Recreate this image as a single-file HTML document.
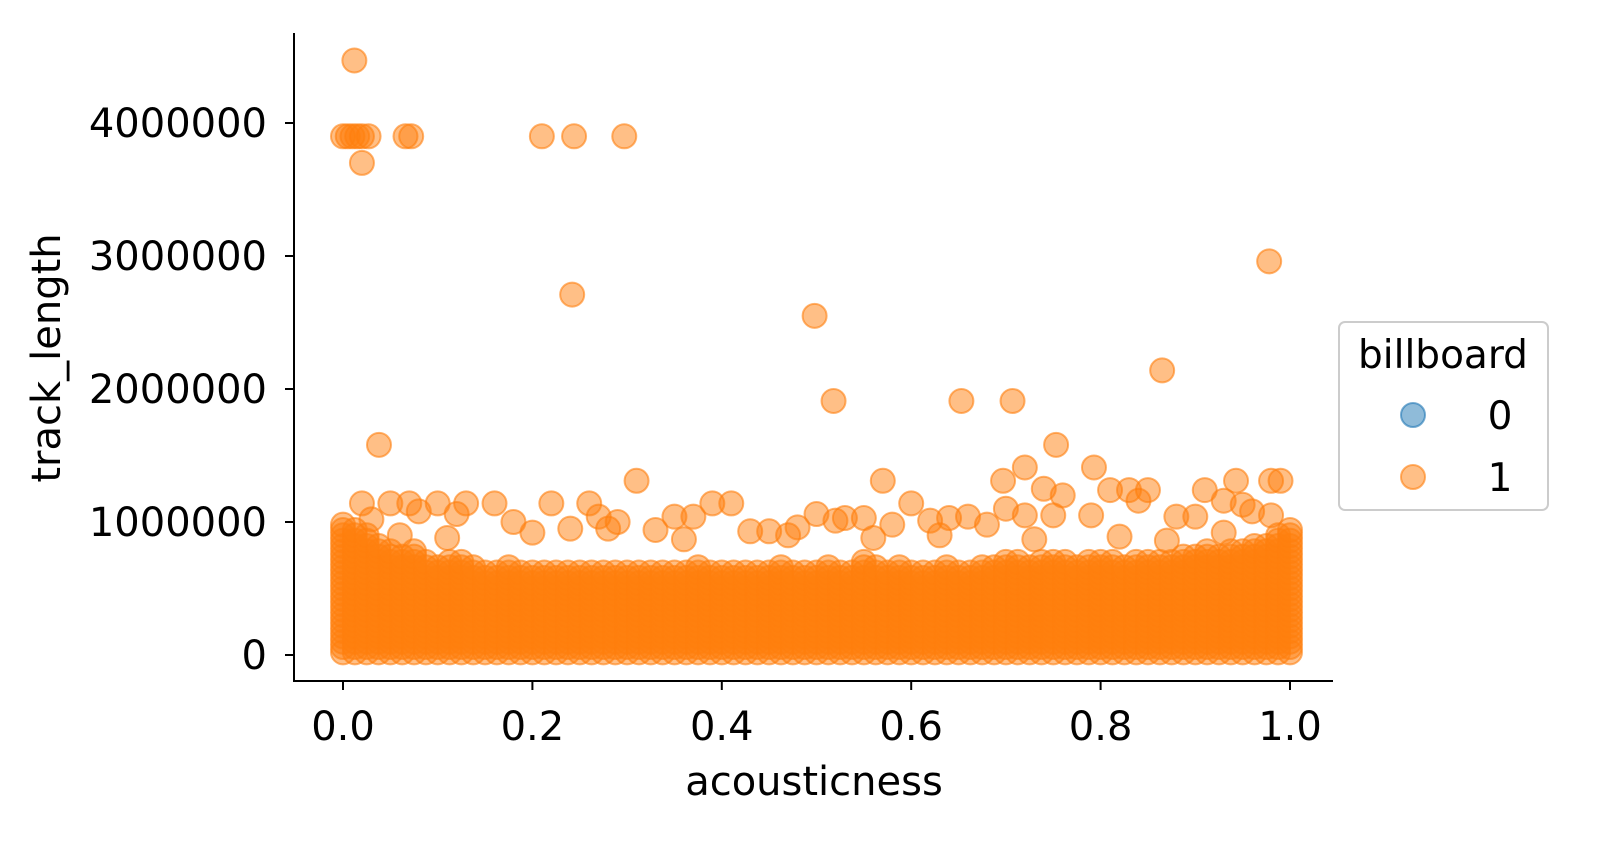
<!DOCTYPE html>
<html><head><meta charset="utf-8"><style>
body{margin:0;background:#fff;}
svg{display:block;font-family:"DejaVu Sans","Liberation Sans",sans-serif;}
</style></head><body>
<svg id="chart" width="1609" height="855">
<g id="marks"></g>
<g id="axes"></g>
<g>
<rect x="1339" y="322" width="209" height="188" rx="6" fill="#fff" fill-opacity="0.8" stroke="#ccc" stroke-width="2"/>
<text x="1443" y="368" font-size="39" text-anchor="middle">billboard</text>
<circle cx="1413" cy="415" r="12" fill="#1f77b4" fill-opacity="0.5" stroke="#1f77b4" stroke-opacity="0.6" stroke-width="2"/>
<text x="1500" y="429" font-size="39" text-anchor="middle">0</text>
<circle cx="1413" cy="477" r="12" fill="#ff7f0e" fill-opacity="0.5" stroke="#ff7f0e" stroke-opacity="0.6" stroke-width="2"/>
<text x="1500" y="491" font-size="39" text-anchor="middle">1</text>
</g>
</svg>
<script>
const xTicks=[0,0.2,0.4,0.6,0.8,1.0];
const xTickLabels=["0.0","0.2","0.4","0.6","0.8","1.0"];
const yTicks=[0,1000000,2000000,3000000,4000000];
const yTickLabels=["0","1000000","2000000","3000000","4000000"];
// dense band: upper edge per column (x = 0..1 step 0.0125)
const bandTop=[1000000,950000,900000,850000,800000,750000,780000,700000,680000,700000,720000,680000,650000,650000,680000,640000,620000,650000,630000,640000,620000,630000,650000,640000,620000,640000,650000,630000,620000,640000,660000,620000,640000,650000,630000,620000,640000,680000,650000,640000,650000,660000,640000,650000,700000,680000,650000,660000,640000,650000,640000,680000,650000,640000,660000,680000,700000,720000,680000,700000,720000,700000,680000,700000,720000,700000,680000,700000,720000,700000,720000,740000,760000,780000,760000,800000,780000,820000,850000,900000,950000];
const bandBottom=[20000];
const outX=[0.012,0.0,0.005,0.01,0.015,0.02,0.027,0.072,0.066,0.02,0.21,0.244,0.297,0.242,0.498,0.518,0.653,0.707,0.865,0.978,0.038,0.753,0.31,0.57,0.697,0.72,0.793,0.99,0.98,0.943,0.83,0.81,0.85,0.91,0.93,0.76,0.74,0.02,0.05,0.07,0.1,0.13,0.16,0.22,0.26,0.27,0.35,0.37,0.39,0.41,0.45,0.5,0.53,0.55,0.6,0.64,0.66,0.7,0.72,0.79,0.88,0.95,0.98,0.03,0.08,0.12,0.18,0.24,0.29,0.33,0.43,0.48,0.52,0.58,0.62,0.68,0.75,0.84,0.9,0.96,0.06,0.11,0.2,0.28,0.36,0.47,0.56,0.63,0.73,0.82,0.87,0.93];
const outY=[4470000,3900000,3900000,3900000,3900000,3900000,3900000,3900000,3900000,3700000,3900000,3900000,3900000,2710000,2550000,1910000,1910000,1910000,2140000,2960000,1580000,1580000,1310000,1310000,1310000,1410000,1410000,1310000,1310000,1310000,1240000,1240000,1240000,1240000,1160000,1200000,1250000,1140000,1140000,1140000,1140000,1140000,1140000,1140000,1140000,1040000,1040000,1040000,1140000,1140000,930000,1060000,1030000,1030000,1140000,1030000,1040000,1100000,1050000,1050000,1040000,1130000,1050000,1020000,1080000,1060000,1000000,950000,1000000,940000,930000,960000,1010000,980000,1010000,980000,1050000,1160000,1040000,1080000,900000,880000,920000,950000,870000,900000,880000,900000,870000,890000,860000,920000];

const X0=343,XS=947,Y0=655,YS=133/1000000;
const xs=v=>X0+v*XS, ys=v=>Y0-v*YS;
const NS="http://www.w3.org/2000/svg";
const marks=document.getElementById('marks');
function dot(x,y){
  const c=document.createElementNS(NS,'circle');
  c.setAttribute('cx',xs(x));c.setAttribute('cy',ys(y));c.setAttribute('r',12);
  c.setAttribute('fill','#ff7f0e');c.setAttribute('fill-opacity','0.5');
  c.setAttribute('stroke','#ff7f0e');c.setAttribute('stroke-opacity','0.6');c.setAttribute('stroke-width','2');
  
  
  marks.appendChild(c);
}
bandTop.forEach((t,i)=>{
  const x=i/(bandTop.length-1);
  for(let v=bandBottom[0];v<=t;v+=40000) dot(x,v);
});
outX.forEach((x,i)=>dot(x,outY[i]));

const axes=document.getElementById('axes');
function el(tag,attrs,name,text){
  const e=document.createElementNS(NS,tag);
  for(const k in attrs)e.setAttribute(k,attrs[k]);
  
  
  if(text!==undefined)e.textContent=text;
  axes.appendChild(e);return e;
}
el('line',{x1:294,y1:33,x2:294,y2:681,stroke:'#000','stroke-width':2},'y-axis-line');
el('line',{x1:293,y1:681,x2:1333,y2:681,stroke:'#000','stroke-width':2},'x-axis-line');
xTicks.forEach((t,i)=>{
  el('line',{x1:xs(t),y1:681,x2:xs(t),y2:690,stroke:'#000','stroke-width':2},'x-tick');
  el('text',{x:xs(t),y:740,'font-size':40,'text-anchor':'middle'},'x-tick-label',xTickLabels[i]);
});
yTicks.forEach((t,i)=>{
  el('line',{x1:285,y1:ys(t),x2:294,y2:ys(t),stroke:'#000','stroke-width':2},'y-tick');
  el('text',{x:267,y:ys(t)+14,'font-size':40,'text-anchor':'end'},'y-tick-label',yTickLabels[i]);
});
el('text',{x:814,y:795,'font-size':40,'text-anchor':'middle'},'x-axis-title','acousticness');
el('text',{x:60,y:358,'font-size':40,'text-anchor':'middle',transform:'rotate(-90 60 358)'},'y-axis-title','track_length');
</script>
</body></html>
